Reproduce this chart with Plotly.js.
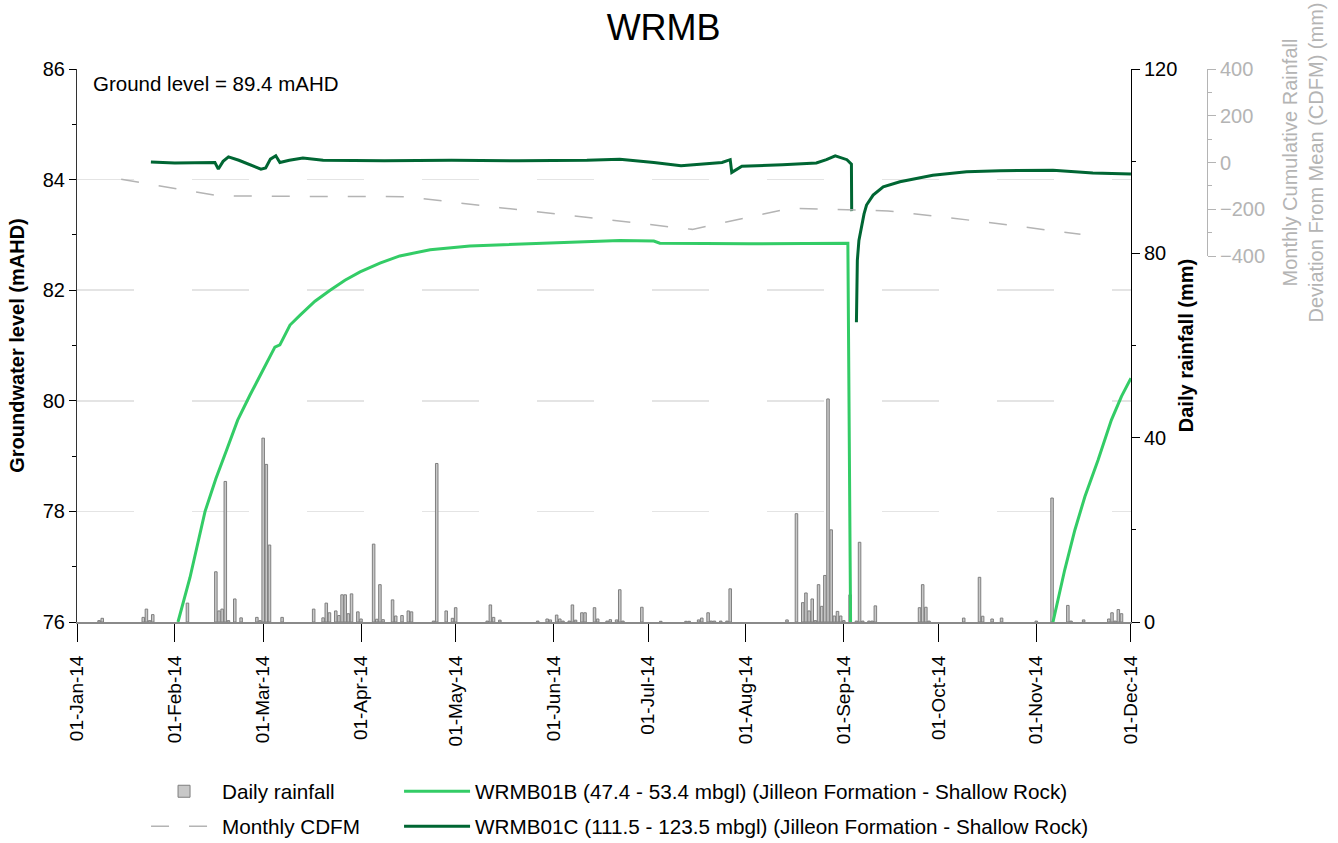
<!DOCTYPE html>
<html>
<head>
<meta charset="utf-8">
<script src="https://cdn.plot.ly/plotly-3.0.1.min.js"></script>
<style>
  html, body { margin: 0; padding: 0; background: #fff; }
  #chart { width: 1338px; height: 843px; }
</style>
</head>
<body>
<div id="chart"></div>
<script>
// Daily rainfall (mm)
const rainDates = [
  '2014-01-08','2014-01-09','2014-01-22','2014-01-23','2014-01-24','2014-01-25',
  '2014-02-05','2014-02-14','2014-02-15','2014-02-16','2014-02-17','2014-02-18','2014-02-20','2014-02-22','2014-02-27','2014-02-28',
  '2014-03-01','2014-03-02','2014-03-03','2014-03-07','2014-03-17','2014-03-20','2014-03-21','2014-03-22','2014-03-24','2014-03-25','2014-03-26','2014-03-27','2014-03-28','2014-03-29','2014-03-31',
  '2014-04-01','2014-04-05','2014-04-06','2014-04-07','2014-04-08','2014-04-11','2014-04-12','2014-04-14','2014-04-16','2014-04-17','2014-04-24','2014-04-25','2014-04-28','2014-04-30',
  '2014-05-01','2014-05-11','2014-05-12','2014-05-13','2014-05-15','2014-05-27','2014-05-30','2014-05-31',
  '2014-06-02','2014-06-03','2014-06-04','2014-06-06','2014-06-07','2014-06-08','2014-06-10','2014-06-11','2014-06-14','2014-06-15','2014-06-18','2014-06-19','2014-06-21','2014-06-22','2014-06-23','2014-06-29',
  '2014-07-05','2014-07-13','2014-07-14','2014-07-17','2014-07-18','2014-07-20','2014-07-21','2014-07-22','2014-07-24','2014-07-26','2014-07-27',
  '2014-08-14','2014-08-17','2014-08-19','2014-08-20','2014-08-21','2014-08-22','2014-08-23','2014-08-24','2014-08-25','2014-08-26','2014-08-27','2014-08-28','2014-08-29','2014-08-30','2014-08-31',
  '2014-09-01','2014-09-03','2014-09-05','2014-09-06','2014-09-07','2014-09-09','2014-09-10','2014-09-11','2014-09-25','2014-09-26','2014-09-27','2014-09-28',
  '2014-10-09','2014-10-14','2014-10-15','2014-10-18','2014-10-21',
  '2014-11-01','2014-11-06','2014-11-11','2014-11-12','2014-11-16','2014-11-24','2014-11-25','2014-11-26','2014-11-27','2014-11-28'
];
const rainMm = [
  0.3, 0.8, 1.0, 2.8, 0.3, 1.6,
  4.1, 10.9, 2.4, 2.8, 30.5, 0.3, 5.0, 0.9, 1.0, 0.3,
  39.9, 34.2, 16.7, 1.0, 2.8, 0.9, 4.1, 2.0, 2.4, 1.4, 5.9, 5.9, 1.8, 6.1, 2.2,
  0.65, 16.9, 0.6, 8.1, 0.5, 4.8, 1.3, 1.4, 2.4, 2.2, 0.2, 34.4, 2.4, 0.8,
  3.1, 0.2, 3.7, 1.0, 0.4, 0.2, 0.65, 0.45,
  1.5, 0.65, 0.2, 0.2, 3.7, 0.4, 2.0, 2.0, 3.1, 0.65, 0.2, 0.5, 0.45, 7.0, 0.2, 3.2,
  0.15, 0.15, 0.15, 0.45, 0.85, 2.0, 0.2, 0.2, 0.2, 0.2, 7.2,
  0.45, 23.5, 4.2, 6.3, 2.4, 5.0, 0.3, 8.1, 3.4, 10.1, 48.4, 20.0, 1.3, 2.3, 1.3,
  0.3, 5.9, 0.2, 17.3, 0.2, 0.2, 0.2, 3.5, 3.1, 8.1, 3.2, 0.2,
  0.85, 9.7, 1.25, 0.65, 0.85,
  0.2, 26.9, 3.6, 0.2, 0.45, 0.65, 2.0, 0.2, 2.7, 1.8
];

// Monthly cumulative rainfall deviation from mean (mm), plotted mid-month
const cdfmDates = ['2014-01-15','2014-02-15','2014-03-15','2014-04-15','2014-05-15','2014-06-15',
                   '2014-07-15','2014-08-15','2014-09-15','2014-10-15','2014-11-15'];
const cdfmMm = [-72, -143, -145, -146, -193, -239, -286, -196, -207, -253, -307];

// WRMB01B groundwater level (mAHD)
const wrmb01bDates = [
  '2014-02-02 00:00','2014-02-05 19:00','2014-02-10 14:00','2014-02-14 00:00','2014-02-17 10:00',
  '2014-02-20 22:00','2014-02-24 19:00','2014-02-28 22:00','2014-03-04 17:00','2014-03-06 07:00',
  '2014-03-09 12:00','2014-03-12 17:00','2014-03-17 10:00','2014-03-22 05:00','2014-03-26 22:00',
  '2014-03-31 17:00','2014-04-07 00:00','2014-04-13 07:00','2014-04-22 22:00','2014-05-05 12:00',
  '2014-05-30 22:00','2014-06-22 00:00','2014-07-02 19:00','2014-07-04 17:00','2014-08-02 00:00',
  '2014-09-02 07:00','2014-09-03 05:00','2014-10-01 00:00',
  '2014-11-06 07:00','2014-11-08 05:00','2014-11-10 00:00','2014-11-13 05:00','2014-11-16 10:00',
  '2014-11-20 14:00','2014-11-24 19:00','2014-11-28 00:00','2014-12-01 00:00'
];
const wrmb01bLevel = [
  76.0, 76.8, 78.0, 78.59, 79.11,
  79.65, 80.1, 80.56, 80.97, 81.01,
  81.37, 81.55, 81.8, 82.0, 82.18,
  82.33, 82.49, 82.62, 82.73, 82.80,
  82.85, 82.90, 82.89, 82.85, 82.84,
  82.85, 75.5, null,
  76.0, 76.47, 76.94, 77.66, 78.27,
  78.93, 79.65, 80.08, 80.41
];

// WRMB01C groundwater level (mAHD)
const wrmb01cDates = [
  '2014-01-24 10:00','2014-02-01 00:00','2014-02-13 17:00','2014-02-14 19:00','2014-02-16 07:00',
  '2014-02-18 00:00','2014-02-21 07:00','2014-02-28 07:00','2014-03-01 19:00','2014-03-03 07:00',
  '2014-03-05 00:00','2014-03-06 07:00','2014-03-09 07:00','2014-03-13 14:00','2014-03-20 00:00',
  '2014-04-08 07:00','2014-04-29 17:00','2014-05-21 00:00','2014-06-11 14:00','2014-06-22 00:00',
  '2014-07-02 19:00','2014-07-11 10:00','2014-07-24 10:00','2014-07-27 00:00','2014-07-27 12:00',
  '2014-07-30 17:00','2014-08-12 14:00','2014-08-23 07:00','2014-08-26 12:00','2014-08-29 07:00',
  '2014-09-02 00:00','2014-09-03 10:00','2014-09-03 12:00','2014-09-04 06:00',
  '2014-09-05 00:00','2014-09-05 07:00','2014-09-05 19:00','2014-09-06 14:00','2014-09-07 10:00',
  '2014-09-08 05:00','2014-09-10 07:00','2014-09-13 12:00','2014-09-18 19:00','2014-09-29 05:00',
  '2014-10-09 22:00','2014-10-20 12:00','2014-11-06 07:00','2014-11-18 22:00','2014-12-01 00:00'
];
const wrmb01cLevel = [
  84.32, 84.30, 84.31, 84.19, 84.33,
  84.41, 84.35, 84.19, 84.21, 84.37,
  84.43, 84.31, 84.35, 84.39, 84.35,
  84.34, 84.35, 84.34, 84.35, 84.37,
  84.31, 84.25, 84.31, 84.36, 84.13,
  84.24, 84.27, 84.30, 84.36, 84.43,
  84.36, 84.28, 83.43, null,
  81.42, 82.54, 82.9, 83.15, 83.38,
  83.54, 83.72, 83.87, 83.96, 84.08,
  84.14, 84.16, 84.17, 84.12, 84.10
];

const FONT = 'Liberation Sans, Arial, Helvetica, sans-serif';
const DAY_MS = 86400000;

const traces = [
  {
    type: 'bar', name: 'Daily rainfall',
    x: rainDates, y: rainMm, yaxis: 'y2',
    width: 0.8 * DAY_MS,
    marker: { color: '#c8c8c8', line: { color: '#7f7f7f', width: 1 } },
    legend: 'legend', legendgroup: 'rain', hoverinfo: 'x+y'
  },
  {
    type: 'scatter', mode: 'lines', name: 'Monthly CDFM',
    x: cdfmDates, y: cdfmMm, yaxis: 'y3',
    line: { color: '#b4b4b4', width: 1.5, dash: '18px,20px' },
    legend: 'legend', legendgroup: 'cdfm'
  },
  {
    type: 'scatter', mode: 'lines', name: 'WRMB01B (47.4 - 53.4 mbgl) (Jilleon Formation - Shallow Rock)',
    x: wrmb01bDates, y: wrmb01bLevel, yaxis: 'y',
    connectgaps: false,
    line: { color: '#33cc66', width: 3 },
    legend: 'legend2', legendgroup: 'b'
  },
  {
    type: 'scatter', mode: 'lines', name: 'WRMB01C (111.5 - 123.5 mbgl) (Jilleon Formation - Shallow Rock)',
    x: wrmb01cDates, y: wrmb01cLevel, yaxis: 'y',
    connectgaps: false,
    line: { color: '#006633', width: 3 },
    legend: 'legend2', legendgroup: 'c'
  }
];

const gridDash = '57px,58px';

const layout = {
  width: 1338, height: 843,
  margin: { l: 77, r: 131, t: 69, b: 221, autoexpand: false },
  paper_bgcolor: '#ffffff', plot_bgcolor: 'rgba(0,0,0,0)',
  font: { family: FONT, size: 20, color: '#000' },
  showlegend: true,
  title: {
    text: 'WRMB', x: 0.496, xref: 'container', xanchor: 'center',
    y: 0.967, yref: 'container', yanchor: 'middle',
    font: { family: FONT, size: 36, color: '#000' }
  },
  xaxis: {
    type: 'date', domain: [0, 0.9327], anchor: 'y2',
    range: ['2014-01-01', '2014-12-01'],
    tick0: '2014-01-01', dtick: 'M1', tickformat: '%d-%b-%y',
    tickangle: -90, ticks: 'outside', ticklen: 18, tickcolor: '#000', tickwidth: 1,
    ticklabelstandoff: 6,
    showline: true, linecolor: '#8a8a8a', linewidth: 2,
    showgrid: false, zeroline: false,
    tickfont: { family: FONT, size: 19, color: '#000' }
  },
  yaxis2: {
    range: [0, 120], side: 'right', anchor: 'x',
    tick0: 0, dtick: 40, ticks: 'outside', ticklen: 8, tickcolor: '#000',
    minor: { dtick: 20, ticks: 'outside', ticklen: 4, tickcolor: '#000' },
    showline: true, linecolor: '#000', linewidth: 1,
    showgrid: false, zeroline: false,
    tickfont: { family: FONT, size: 20, color: '#000' },
    title: { text: '<b>Daily rainfall (mm)</b>', standoff: 2, font: { family: FONT, size: 20, color: '#000' } }
  },
  yaxis: {
    range: [76, 86], side: 'left', anchor: 'x', overlaying: 'y2',
    tick0: 76, dtick: 2, ticks: 'outside', ticklen: 7, tickcolor: '#000',
    minor: { dtick: 1, ticks: 'outside', ticklen: 4, tickcolor: '#000', showgrid: false },
    showline: true, linecolor: '#333', linewidth: 1,
    showgrid: true, gridcolor: '#e4e4e4', gridwidth: 1.5, griddash: gridDash,
    zeroline: false,
    tickfont: { family: FONT, size: 20, color: '#000' },
    title: { text: '<b>Groundwater level (mAHD)</b>', standoff: 12, font: { family: FONT, size: 20, color: '#000' } }
  },
  yaxis3: {
    domain: [0.6618, 1], range: [-400, 400], anchor: 'free', position: 1, side: 'right',
    tick0: -400, dtick: 200, ticks: 'outside', ticklen: 8, tickcolor: '#b4b4b4',
    minor: { dtick: 100, ticks: 'outside', ticklen: 4, tickcolor: '#b4b4b4' },
    showline: true, linecolor: '#b4b4b4', linewidth: 1,
    showgrid: false, zeroline: false,
    tickfont: { family: FONT, size: 20, color: '#b4b4b4' },
    title: {
      text: 'Monthly Cumulative Rainfall<br>Deviation From Mean (CDFM) (mm)',
      standoff: 18, font: { family: FONT, size: 20, color: '#b4b4b4' }
    }
  },
  legend: {
    x: 0.0611, xanchor: 'left', y: -0.27, yanchor: 'top',
    orientation: 'v', itemwidth: 66, tracegroupgap: 5, traceorder: 'grouped',
    bgcolor: 'rgba(0,0,0,0)', font: { family: FONT, size: 20.7, color: '#000' }
  },
  legend2: {
    x: 0.285, xanchor: 'left', y: -0.27, yanchor: 'top',
    orientation: 'v', itemwidth: 66, tracegroupgap: 5, traceorder: 'grouped',
    bgcolor: 'rgba(0,0,0,0)', font: { family: FONT, size: 20.7, color: '#000' }
  },
  annotations: [
    {
      text: 'Ground level = 89.4 mAHD', xref: 'paper', yref: 'paper',
      x: 0.0124, y: 0.973, xanchor: 'left', yanchor: 'middle', showarrow: false,
      font: { family: FONT, size: 20.5, color: '#000' }
    }
  ]
};

Plotly.newPlot('chart', traces, layout, { displayModeBar: false, staticPlot: true });
</script>
</body>
</html>
